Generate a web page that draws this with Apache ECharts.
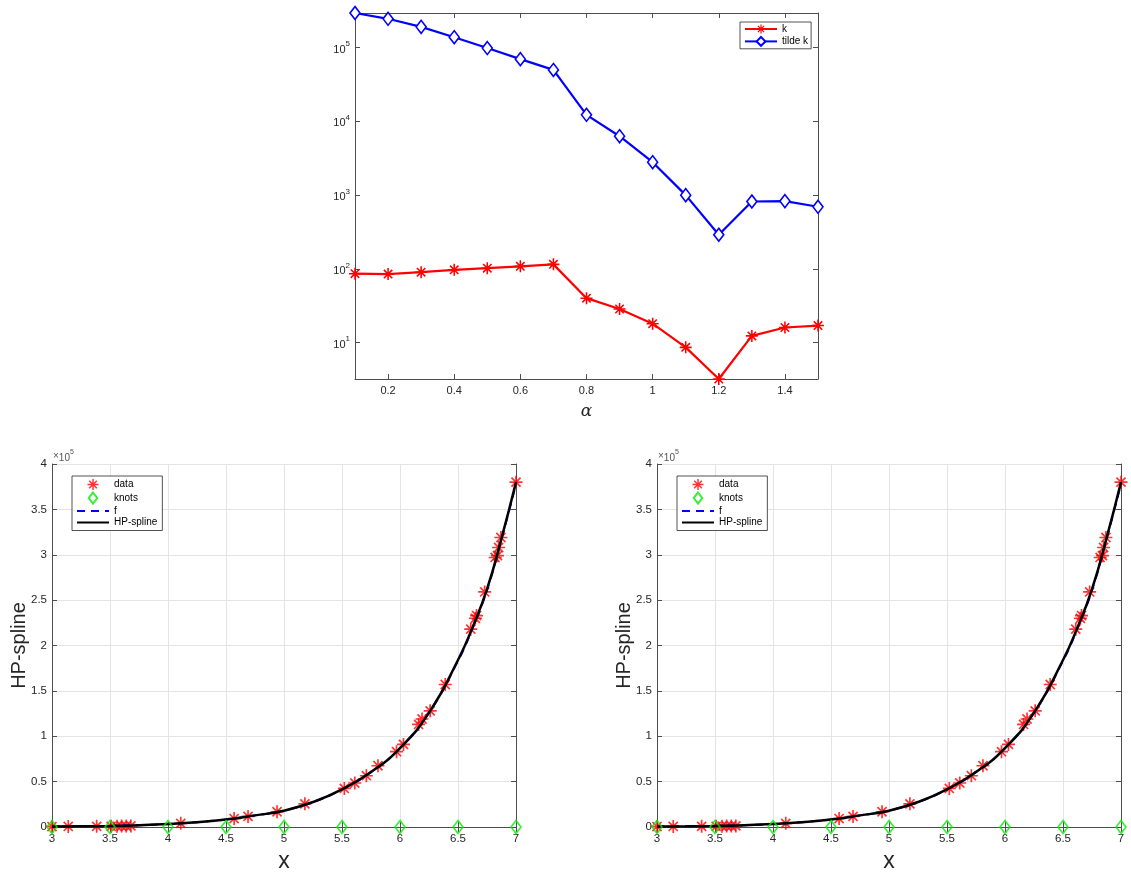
<!DOCTYPE html>
<html><head><meta charset="utf-8">
<script src="https://cdn.jsdelivr.net/npm/echarts@6/dist/echarts.min.js"></script>
<style>html,body{margin:0;padding:0;background:#fff}#c{width:1131px;height:874px}</style>
</head><body><div id="c"></div>
<script>
// ---- top chart data ----
const alphaVals = [0.1,0.2,0.3,0.4,0.5,0.6,0.7,0.8,0.9,1.0,1.1,1.2,1.3,1.4,1.5];
const kVals = [86,85,90,97,102,108,115,40,28.5,18,8.6,3.2,12.3,16,17];
const tildeKVals = [296000,247000,192000,139000,99000,70000,50000,12300,6300,2800,1000,290,820,830,695];
const alphaTicks = [0.2,0.4,0.6,0.8,1.0,1.2,1.4];
const logMin = 3.2, logMax = 296000;

// ---- bottom charts data (y in units of 1e5) ----
const dataX = [3.00,3.14,3.385,3.51,3.56,3.60,3.64,3.68,4.11,4.57,4.69,4.94,5.18,5.52,5.61,5.71,5.81,5.97,6.03,6.16,6.19,6.26,6.39,6.61,6.65,6.66,6.73,6.82,6.84,6.85,6.87,7.00];
const dataY = [0.005,0.006,0.007,0.008,0.009,0.010,0.011,0.012,0.040,0.093,0.117,0.168,0.255,0.425,0.485,0.565,0.675,0.83,0.91,1.13,1.19,1.28,1.57,2.18,2.30,2.33,2.59,2.97,2.99,3.08,3.19,3.80];
const knotX = [3,3.5,4,4.5,5,5.5,6,6.5,7];
const knotY = [0,0,0,0,0,0,0,0,0];
const curveX = [3.0,3.25,3.5,3.75,4.0,4.25,4.5,4.75,5.0,5.25,5.5,5.75,6.0,6.25,6.5,6.625,6.75,6.875,7.0];
const splineY = [0.005,0.008,0.012,0.02,0.033,0.053,0.083,0.128,0.18,0.275,0.415,0.605,0.87,1.26,1.84,2.2,2.62,3.18,3.80];
const fY = [0.005,0.008,0.012,0.02,0.033,0.053,0.083,0.128,0.18,0.275,0.415,0.605,0.87,1.26,1.83,2.19,2.61,3.17,3.78];
const xName = 'x', yName = 'HP-spline';

const pairs = (xs, ys) => xs.map((x, i) => [x, ys[i]]);
const AST = 'path://M0 8.7L20 8.7L20 11.3L0 11.3Z M8.7 0L11.3 0L11.3 20L8.7 20Z M3.92 2.08L17.92 16.08L16.08 17.92L2.08 3.92Z M17.92 3.92L3.92 17.92L2.08 16.08L16.08 2.08Z';
const DIA = 'path://M5 0L10 6.5L5 13L0 6.5Z';
const FONT = 'Liberation Sans, Arial, sans-serif';
const TXT = '#262626', AX = '#4d4d4d', GRID = '#e4e4e4';

const supRich = {
  b: {fontSize: 11, color: TXT, fontFamily: FONT, verticalAlign: 'bottom', padding: [4,0,0,0]},
  s: {fontSize: 8, color: TXT, fontFamily: FONT, verticalAlign: 'top'}
};

const grids = [
  {left: 355, right: 1131-818, top: 13, bottom: 874-379},
  {left: 52, right: 1131-516, top: 464, bottom: 874-829},
  {left: 657, right: 1131-1121, top: 464, bottom: 874-829}
];

const axLine = {show: true, lineStyle: {color: AX, width: 1}};
const xAxes = [], yAxes = [];
// top chart
xAxes.push({type: 'value', gridIndex: 0, min: 0.1, max: 1.5, position: 'bottom',
  axisLine: axLine, splitLine: {show: false},
  axisTick: {inside: true, length: 5, lineStyle: {color: AX}, customValues: alphaTicks},
  axisLabel: {customValues: alphaTicks, color: TXT, fontSize: 11, fontFamily: FONT, margin: 6},
  name: 'α', nameLocation: 'middle', nameGap: 24,
  nameTextStyle: {fontFamily: 'DejaVu Serif', fontStyle: 'italic', fontSize: 17, color: TXT}});
xAxes.push({type: 'value', gridIndex: 0, min: 0.1, max: 1.5, position: 'top',
  axisLine: axLine, splitLine: {show: false},
  axisTick: {inside: true, length: 5, lineStyle: {color: AX}, customValues: alphaTicks},
  axisLabel: {show: false}});
const logFmt = v => { const e = Math.log10(v), r = Math.round(e); return Math.abs(e - r) > 1e-6 ? '' : '{b|10}{s|' + r + '}'; };
yAxes.push({type: 'log', gridIndex: 0, min: logMin, max: logMax, logBase: 10, splitNumber: 5, position: 'left',
  axisLine: axLine, splitLine: {show: false},
  axisTick: {inside: true, length: 5, lineStyle: {color: AX}},
  axisLabel: {formatter: logFmt, rich: supRich, margin: 5}});
yAxes.push({type: 'log', gridIndex: 0, min: logMin, max: logMax, logBase: 10, splitNumber: 5, position: 'right',
  axisLine: axLine, splitLine: {show: false},
  axisTick: {inside: true, length: 5, lineStyle: {color: AX}},
  axisLabel: {show: false}});
// bottom charts
[1, 2].forEach(g => {
  xAxes.push({type: 'value', gridIndex: g, min: 3, max: 7, interval: 0.5, position: 'bottom',
    axisLine: axLine, splitLine: {show: true, lineStyle: {color: GRID}},
    axisTick: {inside: true, length: 5, lineStyle: {color: AX}},
    axisLabel: {color: TXT, fontSize: 11.5, fontFamily: FONT, margin: 6},
    name: xName, nameLocation: 'middle', nameGap: 23,
    nameTextStyle: {fontFamily: FONT, fontSize: 23, color: TXT}});
  xAxes.push({type: 'value', gridIndex: g, min: 3, max: 7, interval: 0.5, position: 'top',
    axisLine: axLine, splitLine: {show: false},
    axisTick: {inside: true, length: 5, lineStyle: {color: AX}}, axisLabel: {show: false}});
  yAxes.push({type: 'value', gridIndex: g, min: 0, max: 4, interval: 0.5, position: 'left',
    axisLine: axLine, splitLine: {show: true, lineStyle: {color: GRID}},
    axisTick: {inside: true, length: 5, lineStyle: {color: AX}},
    axisLabel: {color: TXT, fontSize: 11.5, fontFamily: FONT, margin: 5},
    name: yName, nameLocation: 'middle', nameGap: 23, nameRotate: 90, nameMoveOverlap: false,
    nameTextStyle: {fontFamily: FONT, fontSize: 20, color: TXT}});
  yAxes.push({type: 'value', gridIndex: g, min: 0, max: 4, interval: 0.5, position: 'right',
    axisLine: axLine, splitLine: {show: false},
    axisTick: {inside: true, length: 5, lineStyle: {color: AX}}, axisLabel: {show: false}});
});

const series = [
  {name: 'k', type: 'line', xAxisIndex: 0, yAxisIndex: 0, data: pairs(alphaVals, kVals),
   symbol: AST, symbolSize: 12, showSymbol: true, clip: false,
   lineStyle: {color: '#ff0000', width: 2.2}, itemStyle: {color: '#ff0000'}},
  {name: 'tilde k', type: 'line', xAxisIndex: 0, yAxisIndex: 0, data: pairs(alphaVals, tildeKVals),
   symbol: DIA, symbolSize: [10, 13], showSymbol: true, clip: false,
   lineStyle: {color: '#0000ff', width: 2.2}, itemStyle: {color: '#ffffff', borderColor: '#0000ff', borderWidth: 1.6}}
];
[1, 2].forEach(g => {
  const xi = 2 + (g - 1) * 2, yi = 2 + (g - 1) * 2;
  series.push({name: 'data', type: 'scatter', xAxisIndex: xi, yAxisIndex: yi, data: pairs(dataX, dataY),
    symbol: AST, symbolSize: 13, clip: false, itemStyle: {color: '#ff0000'}, z: 3});
  series.push({name: 'knots', type: 'scatter', xAxisIndex: xi, yAxisIndex: yi, data: pairs(knotX, knotY),
    symbol: DIA, symbolSize: [10, 13], clip: false,
    itemStyle: {color: 'rgba(255,255,255,0)', borderColor: '#00ee00', borderWidth: 1.6}, z: 5});
  series.push({name: 'f', type: 'line', xAxisIndex: xi, yAxisIndex: yi, data: pairs(curveX, fY),
    symbol: 'none', smooth: 0.5,
    lineStyle: {color: '#0000ff', width: 2, type: [8, 6]}, itemStyle: {color: '#0000ff'}, z: 4});
  series.push({name: 'HP-spline', type: 'line', xAxisIndex: xi, yAxisIndex: yi, data: pairs(curveX, splineY),
    symbol: 'none', smooth: 0.5,
    lineStyle: {color: '#000000', width: 2.5}, itemStyle: {color: '#000000'}, z: 4});
});

const legBase = {orient: 'vertical', itemWidth: 32, itemHeight: 11, itemGap: 1.5,
  borderColor: '#262626', borderWidth: 0.8, backgroundColor: '#fff', selectedMode: false,
  textStyle: {fontSize: 10, color: '#000', fontFamily: FONT}};
const botLegendData = ['data', 'knots', {name: 'f', itemStyle: {opacity: 0}}, {name: 'HP-spline', itemStyle: {opacity: 0}}];
const legends = [
  Object.assign({}, legBase, {data: ['k', 'tilde k'], left: 740, top: 22, padding: [2, 3, 2, 4], itemGap: 2}),
  Object.assign({}, legBase, {data: botLegendData, left: 72, top: 476, padding: [3, 5, 3, 4]}),
  Object.assign({}, legBase, {data: botLegendData, left: 677, top: 476, padding: [3, 5, 3, 4]})
];

const expRich = {b: {fontSize: 10, color: '#555', fontFamily: FONT, verticalAlign: 'bottom', padding: [4,0,0,0]},
                 s: {fontSize: 7, color: '#555', fontFamily: FONT, verticalAlign: 'top'}};
const titles = [
  {text: '×{b|10}{s|5}', left: 53, top: 449, padding: 0, textStyle: {fontSize: 10, color: '#555', fontWeight: 'normal', fontFamily: FONT, rich: expRich}},
  {text: '×{b|10}{s|5}', left: 658, top: 449, padding: 0, textStyle: {fontSize: 10, color: '#555', fontWeight: 'normal', fontFamily: FONT, rich: expRich}}
];

const chart = echarts.init(document.getElementById('c'), null, {renderer: 'canvas'});
chart.setOption({
  animation: false, backgroundColor: '#fff',
  title: titles, grid: grids, xAxis: xAxes, yAxis: yAxes, legend: legends, series: series
});
</script></body></html>
